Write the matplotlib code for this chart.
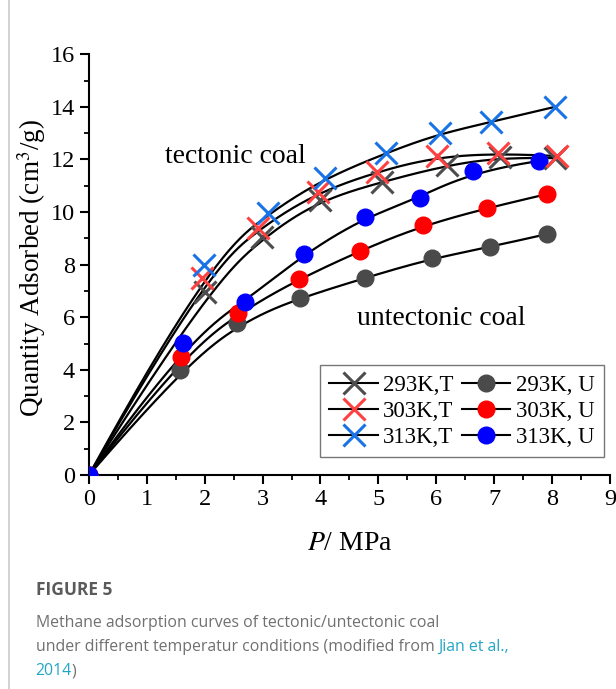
import numpy as np
import matplotlib
matplotlib.use("Agg")
import matplotlib.pyplot as plt
from matplotlib.ticker import MultipleLocator
from matplotlib.lines import Line2D

# pressure (MPa) and adsorbed quantity (cm3/g)
p_293_t = [0, 2.00, 2.99, 3.99, 5.06, 6.18, 7.10, 8.05]
v_293_t = [0, 6.96, 9.05, 10.46, 11.14, 11.79, 12.09, 12.05]
p_303_t = [0, 1.95, 2.92, 3.96, 4.97, 6.01, 7.07, 8.08]
v_303_t = [0, 7.49, 9.39, 10.76, 11.52, 12.13, 12.24, 12.13]
p_313_t = [0, 1.99, 3.09, 4.08, 5.13, 6.06, 6.94, 8.05]
v_313_t = [0, 7.98, 9.96, 11.29, 12.24, 13.00, 13.42, 14.00]

p_293_u = [0, 1.57, 2.56, 3.64, 4.77, 5.92, 6.93, 7.91]
v_293_u = [0, 3.99, 5.78, 6.73, 7.49, 8.25, 8.67, 9.16]
p_303_u = [0, 1.59, 2.57, 3.63, 4.68, 5.77, 6.87, 7.91]
v_303_u = [0, 4.49, 6.16, 7.45, 8.52, 9.51, 10.15, 10.68]
p_313_u = [0, 1.63, 2.69, 3.71, 4.77, 5.72, 6.63, 7.77]
v_313_u = [0, 5.02, 6.58, 8.40, 9.81, 10.53, 11.56, 11.94]

labels_t = ["293K,T", "303K,T", "313K,T"]
labels_u = ["293K, U", "303K, U", "313K, U"]
colors_t = ["#4d4d4d", "#ff4040", "#1a73e6"]
colors_u = ["#4a4a4a", "#ff0000", "#0000ff"]

plt.rcParams["font.family"] = ["Liberation Serif", "DejaVu Serif"]
plt.rcParams["mathtext.fontset"] = "stix"


def bspline_line(x, y, k=3, n=300):
    # clamped cubic B-spline with the data points as control points
    # (same idea as Origin's "B-spline" line connection)
    x = np.asarray(x, dtype=float)
    y = np.asarray(y, dtype=float)
    m = len(x)
    knots = np.concatenate([np.zeros(k), np.arange(m - k + 1), np.full(k, m - k)])
    ts = np.linspace(0, m - k, n)
    ts[-1] -= 1e-9
    N = np.array([(ts >= knots[i]) & (ts < knots[i + 1])
                  for i in range(len(knots) - 1)], dtype=float)
    for d in range(1, k + 1):
        Nn = np.zeros((len(knots) - 1 - d, n))
        for i in range(len(knots) - 1 - d):
            den1 = knots[i + d] - knots[i]
            den2 = knots[i + d + 1] - knots[i + 1]
            if den1 > 0:
                Nn[i] += (ts - knots[i]) / den1 * N[i]
            if den2 > 0:
                Nn[i] += (knots[i + d + 1] - ts) / den2 * N[i + 1]
        N = Nn
    return N.T @ x, N.T @ y


fig = plt.figure(figsize=(6.16, 6.89), dpi=100)
ax = fig.add_axes([0.1445, 0.3106, 0.8455, 0.6106])

series_t = [(p_293_t, v_293_t), (p_303_t, v_303_t), (p_313_t, v_313_t)]
series_u = [(p_293_u, v_293_u), (p_303_u, v_303_u), (p_313_u, v_313_u)]

for (p, v) in series_t + series_u:
    xs, ys = bspline_line(p, v)
    ax.plot(xs, ys, color="black", lw=1.6, zorder=2)

for (p, v), c in zip(series_u, colors_u):
    ax.plot(p, v, "o", color=c, ms=12, zorder=3)
for (p, v), c in zip(series_t, colors_t):
    ax.plot(p[1:], v[1:], "x", color=c, ms=16, mew=2.2, zorder=4)

ax.set_xlim(0, 9)
ax.set_ylim(0, 16)
ax.xaxis.set_major_locator(MultipleLocator(1))
ax.xaxis.set_minor_locator(MultipleLocator(0.5))
ax.yaxis.set_major_locator(MultipleLocator(2))
ax.yaxis.set_minor_locator(MultipleLocator(1))
ax.spines["top"].set_visible(False)
ax.spines["right"].set_visible(False)
for s in ["left", "bottom"]:
    ax.spines[s].set_linewidth(1.5)
ax.tick_params(which="major", direction="out", length=6.5, width=1.5, labelsize=17.5)
ax.tick_params(which="minor", direction="out", length=3.5, width=1.3)

ax.set_xlabel("$P$/ MPa", fontsize=20)
ax.xaxis.set_label_coords(0.5, -0.162)
ax.xaxis.label.set_va("center")
ax.set_ylabel("Quantity Adsorbed (cm$^3$/g)", fontsize=19.5)
ax.yaxis.set_label_coords(-0.11, 0.492)
ax.yaxis.label.set_va("center")

ax.text(1.31, 12.1, "tectonic coal", fontsize=20, va="center")
ax.text(4.63, 5.97, "untectonic coal", fontsize=20, va="center")

handles = []
for c, lab in zip(colors_t, labels_t):
    handles.append(Line2D([], [], color="black", lw=1.5, marker="x", ms=16,
                          mew=2.2, mec=c, mfc=c, label=lab))
for c, lab in zip(colors_u, labels_u):
    handles.append(Line2D([], [], color="black", lw=1.5, marker="o", ms=12,
                          mec=c, mfc=c, label=lab))
leg = ax.legend(handles=handles, ncol=2, loc="lower right",
                bbox_to_anchor=(0.988, 0.043), fontsize=16.5, frameon=True,
                fancybox=False, edgecolor="#555555", handlelength=2.1,
                handletextpad=0.25, columnspacing=0.35, labelspacing=0.22,
                borderpad=0.4, borderaxespad=0)
leg.get_frame().set_linewidth(1.0)

# card border line on the left
fig.add_artist(Line2D([0.0146, 0.0146], [0, 1], color="#cccccc", lw=1.2))

cap_font = ["Open Sans", "DejaVu Sans"]
cap_size = 11.4
fig.text(0.058, 1 - 590 / 689, "FIGURE 5", fontsize=12.5, fontweight="bold",
         color="#5a5a5a", family=cap_font, va="center")
fig.text(0.058, 1 - 623 / 689, "Methane adsorption curves of tectonic/untectonic coal",
         fontsize=cap_size, color="#707070", family=cap_font, va="center")
t = fig.text(0.058, 1 - 647 / 689, "under different temperatur conditions (modified from ",
             fontsize=cap_size, color="#707070", family=cap_font, va="center")
fig.canvas.draw()
bb = t.get_window_extent()
fig.text(bb.x1 / fig.bbox.width, 1 - 647 / 689, "Jian et al.,", fontsize=cap_size,
         color="#22a6c4", family=cap_font, va="center")
t2 = fig.text(0.058, 1 - 671 / 689, "2014", fontsize=cap_size, color="#22a6c4",
              family=cap_font, va="center")
fig.canvas.draw()
bb2 = t2.get_window_extent()
fig.text(bb2.x1 / fig.bbox.width, 1 - 671 / 689, ")", fontsize=cap_size,
         color="#707070", family=cap_font, va="center")

fig.savefig("out.png", dpi=100)
